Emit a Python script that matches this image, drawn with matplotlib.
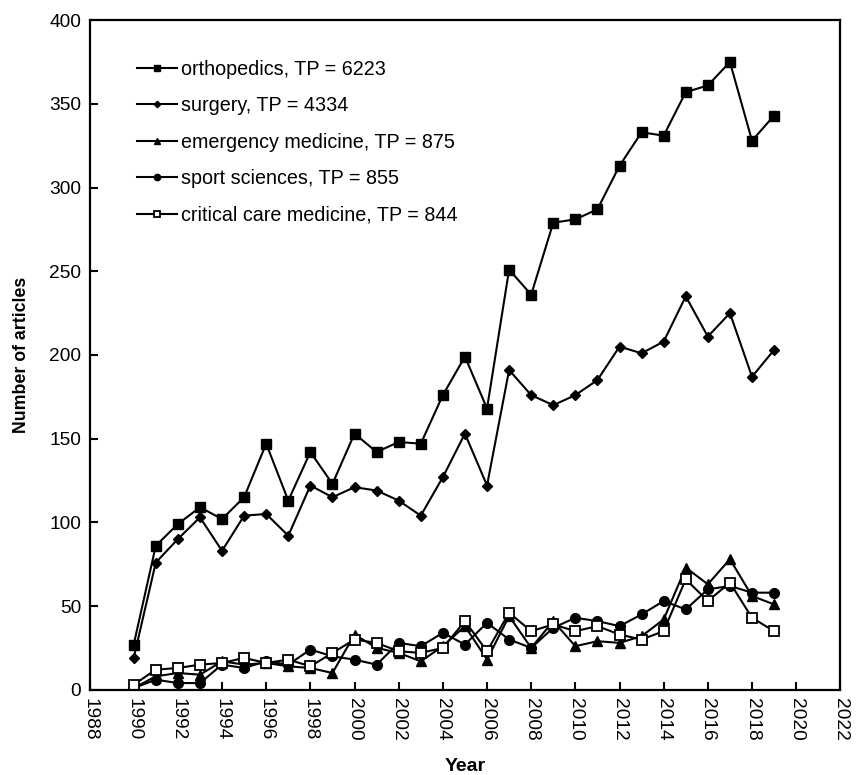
import matplotlib
matplotlib.use("Agg")
import matplotlib.pyplot as plt

plt.rcParams["font.family"] = ["Liberation Sans", "DejaVu Sans"]

years = list(range(1990, 2020))

orthopedics = [27, 86, 99, 109, 102, 115, 147, 113, 142, 123, 153, 142, 148, 147, 176, 199,
               168, 251, 236, 279, 281, 287, 313, 333, 331, 357, 361, 375, 328, 343]
surgery = [19, 76, 90, 103, 83, 104, 105, 92, 122, 115, 121, 119, 113, 104, 127, 153,
           122, 191, 176, 170, 176, 185, 205, 201, 208, 235, 211, 225, 187, 203]
emergency = [1, 8, 10, 9, 17, 15, 16, 14, 13, 10, 33, 25, 22, 17, 26, 38,
             18, 44, 25, 41, 26, 29, 28, 32, 42, 73, 63, 78, 56, 51]
sport = [1, 6, 4, 4, 15, 13, 17, 15, 24, 20, 18, 15, 28, 26, 34, 27,
         40, 30, 25, 37, 43, 41, 38, 45, 53, 48, 60, 62, 58, 58]
critical = [3, 12, 13, 15, 16, 19, 16, 18, 14, 22, 30, 28, 23, 22, 25, 41,
            23, 46, 35, 39, 35, 38, 33, 30, 35, 66, 53, 64, 43, 35]

labels = ["orthopedics, TP = 6223", "surgery, TP = 4334", "emergency medicine, TP = 875",
          "sport sciences, TP = 855", "critical care medicine, TP = 844"]

fig = plt.figure(figsize=(8.61, 7.75), dpi=100)
ax = fig.add_axes([0.104, 0.110, 0.872, 0.864])

lw = 1.5
ax.plot(years, orthopedics, color="black", lw=lw, marker="s", ms=7, label=labels[0])
ax.plot(years, surgery, color="black", lw=lw, marker="D", ms=5, label=labels[1])
ax.plot(years, emergency, color="black", lw=lw, marker="^", ms=7, label=labels[2])
ax.plot(years, sport, color="black", lw=lw, marker="o", ms=7, label=labels[3])
ax.plot(years, critical, color="black", lw=lw, marker="s", ms=7, mfc="white",
        mew=1.3, label=labels[4])

ax.set_xlim(1988, 2022)
ax.set_ylim(0, 400)
ax.set_xticks(range(1988, 2023, 2))
ax.set_yticks(range(0, 401, 50))
ax.tick_params(direction="in", length=6, width=1.5, labelsize=13.8, pad=6)
for lab in ax.get_xticklabels():
    lab.set_rotation(270)
for sp in ax.spines.values():
    sp.set_linewidth(1.6)

ax.set_xlabel("Year", fontsize=14, fontweight="bold", labelpad=12)
ax.set_ylabel("Number of articles", fontsize=12.8, fontweight="bold", labelpad=14)

ax.legend(loc="upper left", bbox_to_anchor=(0.04, 0.967), frameon=False, fontsize=14.2,
          markerscale=0.65, handlelength=2.0, handletextpad=0.2, labelspacing=0.88)

fig.savefig("out.png", dpi=100)
